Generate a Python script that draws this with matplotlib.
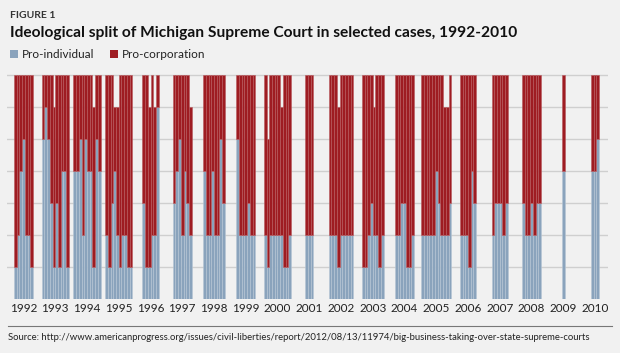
import matplotlib.pyplot as plt
import matplotlib.patches as mpatches
import numpy as np

plt.rcParams['font.family'] = ['Lato', 'DejaVu Sans']

# votes per case, grouped by year (7 justices, some cases with fewer votes)
years = list(range(1992, 2011))
pro_individual = [
    [1, 2, 4, 5, 2, 2, 1],
    [5, 6, 5, 3, 1, 3, 1, 4, 4, 1],
    [4, 4, 5, 2, 5, 4, 4, 1, 5, 4],
    [2, 1, 3, 4, 2, 1, 2, 2, 1, 1],
    [3, 1, 1, 2, 2, 6],
    [3, 4, 5, 2, 4, 3, 2],
    [4, 2, 2, 4, 2, 2, 5, 3],
    [5, 2, 2, 2, 3, 2, 2],
    [2, 1, 2, 2, 2, 2, 2, 1, 1, 2],
    [2, 2, 2],
    [2, 2, 2, 1, 2, 2, 2, 2, 2],
    [1, 1, 2, 3, 2, 2, 1, 2],
    [2, 2, 3, 3, 1, 1, 2],
    [2, 2, 2, 2, 2, 4, 3, 2, 2, 2, 3],
    [2, 2, 2, 1, 4, 3],
    [2, 3, 3, 3, 2, 3],
    [3, 2, 2, 3, 2, 3, 3],
    [4],
    [4, 4, 5],
]
pro_corporation = [
    [6, 5, 3, 2, 5, 5, 6],
    [2, 1, 2, 4, 5, 4, 6, 3, 3, 6],
    [3, 3, 2, 5, 2, 3, 3, 5, 2, 3],
    [5, 6, 4, 2, 4, 6, 5, 5, 6, 6],
    [4, 6, 5, 5, 4, 1],
    [4, 3, 2, 5, 3, 4, 4],
    [3, 5, 5, 3, 5, 5, 2, 4],
    [2, 5, 5, 5, 4, 5, 5],
    [5, 4, 5, 5, 5, 5, 4, 6, 6, 5],
    [5, 5, 5],
    [5, 5, 5, 5, 5, 5, 5, 5, 5],
    [6, 6, 5, 4, 4, 5, 6, 5],
    [5, 5, 4, 4, 6, 6, 5],
    [5, 5, 5, 5, 5, 3, 4, 5, 4, 4, 4],
    [5, 5, 5, 6, 3, 4],
    [5, 4, 4, 4, 5, 4],
    [4, 5, 5, 4, 5, 4, 4],
    [3],
    [3, 3, 2],
]

blue = '#8aa3bc'
red = '#9e1c22'
bg = '#f1f1f1'

fig = plt.figure(figsize=(6.2, 3.53), dpi=100, facecolor=bg)
ax = fig.add_axes([7/620, 0.1538, 601/620, 0.6437])
ax.set_facecolor(bg)

w = 0.086  # width of one case, in years
for yr, ind, corp in zip(years, pro_individual, pro_corporation):
    n = len(ind)
    xs = yr + (np.arange(n) - (n - 1) / 2) * w
    ax.bar(xs, ind, width=w, color=blue, edgecolor='#b7c6d5', linewidth=0.4, zorder=2)
    ax.bar(xs, corp, bottom=ind, width=w, color=red, edgecolor='#b85a5e', linewidth=0.4, zorder=2)

ax.set_xlim(1991.48, 2010.41)
ax.set_ylim(0, 7.1)
ax.set_yticks(range(1, 8))
ax.yaxis.grid(True, color='#cfcfcf', linewidth=1.0, zorder=0)
ax.tick_params(axis='y', left=False, labelleft=False)
ax.set_xticks(years)
ax.set_xticklabels([str(y) for y in years], fontsize=8.5, color='#222222')
ax.tick_params(axis='x', length=0, pad=3)
for s in ax.spines.values():
    s.set_visible(False)

fig.text(10/620, 1 - 15/353, 'FIGURE 1', fontsize=7.5, fontweight='bold', color='#333333', va='center')
fig.text(10/620, 1 - 33/353, 'Ideological split of Michigan Supreme Court in selected cases, 1992-2010',
         fontsize=11.2, fontweight='bold', color='#111111', va='center')

fig.patches.append(mpatches.Rectangle((10/620, 1 - 58/353), 8/620, 8/353, transform=fig.transFigure,
                                      facecolor=blue, edgecolor='none'))
fig.text(22/620, 1 - 54/353, 'Pro-individual', fontsize=8.5, color='#222222', va='center')
fig.patches.append(mpatches.Rectangle((110/620, 1 - 58/353), 8/620, 8/353, transform=fig.transFigure,
                                      facecolor=red, edgecolor='none'))
fig.text(122/620, 1 - 54/353, 'Pro-corporation', fontsize=8.5, color='#222222', va='center')

fig.add_artist(plt.Line2D([8/620, 612/620], [1 - 326/353, 1 - 326/353], color='#777777', linewidth=0.8))
fig.text(8/620, 1 - 338/353,
         'Source: http://www.americanprogress.org/issues/civil-liberties/report/2012/08/13/11974/big-business-taking-over-state-supreme-courts',
         fontsize=6.85, color='#222222', va='center')

fig.savefig('out.png', dpi=100, facecolor=bg)
